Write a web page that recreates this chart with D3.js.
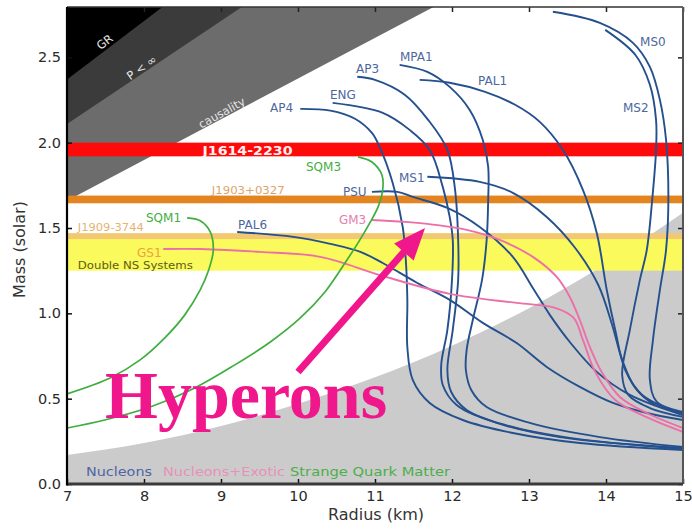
<!DOCTYPE html>
<html>
<head>
<meta charset="utf-8">
<script src="https://cdn.jsdelivr.net/npm/d3@7"></script>
<style>
  html, body { margin: 0; padding: 0; background: #fff; }
  svg { display: block; font-family: "DejaVu Sans", sans-serif; }
</style>
</head>
<body>
<svg id="chart" width="692" height="529"></svg>
<script>
// ---- Axis ticks ----
const radiusTicks = [7, 8, 9, 10, 11, 12, 13, 14, 15];
const massTicks = [0, 0.5, 1.0, 1.5, 2.0, 2.5];

// ---- Excluded regions (radius km, mass Msun) ----
const grRegion        = [[7, 2.37], [8.24, 2.795], [7, 2.795]];
const pressureRegion  = [[7, 2.11], [9.27, 2.795], [7, 2.795]];
const causalityRegion = [[7, 1.66], [11.76, 2.795], [7, 2.795]];
// upper edge of the region excluded by the 716 Hz spin
const rotationEdge = [[7, 0.17], [8, 0.24], [9, 0.34], [10, 0.47], [11, 0.625],
                      [12, 0.81], [13, 1.03], [14, 1.29], [15, 1.59]];

// ---- Measured pulsar masses (low, high) ----
const bandNames = ["Double NS Systems", "J1909-3744", "J1903+0327", "J1614-2230"];
const bandLow   = [1.25, 1.435, 1.645, 1.92];
const bandHigh  = [1.445, 1.47, 1.69, 2.00];

// ---- Mass–radius relations (radius km, mass Msun) ----
const eosAP4 = [[10.03,2.198],[10.42,2.188],[10.74,2.14],[10.96,2.057],[11.06,1.975],[11.23,1.764],
  [11.36,1.506],[11.40,1.313],[11.42,1.079],[11.42,0.803],[11.49,0.610],[11.71,0.475],
  [12.14,0.375],[12.79,0.299],[13.66,0.240],[15.0,0.199]];
const eosENG = [[10.45,2.233],[11.10,2.175],[11.45,2.075],[11.71,1.958],[11.88,1.741],[11.97,1.565],
  [12.01,1.430],[12.00,1.196],[11.94,0.903],[11.86,0.698],[11.88,0.580],[12.06,0.463],
  [12.58,0.358],[13.40,0.275],[15.0,0.211]];
const eosAP3 = [[10.77,2.386],[11.0,2.368],[11.39,2.280],[11.69,2.134],[11.94,1.958],[12.04,1.723],
  [12.08,1.430],[12.08,1.196],[12.01,0.903],[11.94,0.668],[11.99,0.539],[12.19,0.434],
  [12.69,0.346],[13.53,0.270],[15.0,0.205]];
const eosMPA1 = [[11.32,2.456],[11.68,2.415],[11.97,2.327],[12.23,2.192],[12.40,2.016],[12.47,1.858],
  [12.47,1.665],[12.45,1.430],[12.39,1.196],[12.27,0.961],[12.19,0.785],[12.18,0.668],
  [12.25,0.551],[12.45,0.451],[13.01,0.358],[13.92,0.275],[15.0,0.217]];
const eosPAL1 = [[11.58,2.368],[11.97,2.351],[12.43,2.298],[12.82,2.222],[13.14,2.122],[13.44,1.958],
  [13.70,1.723],[13.88,1.471],[14.01,1.137],[14.12,0.903],[14.25,0.668],[14.47,0.522],[15.0,0.404]];
const eosMS1 = [[11.68,1.800],[12.36,1.770],[12.79,1.706],[13.23,1.565],[13.60,1.383],[13.90,1.166],
  [14.08,0.932],[14.21,0.727],[14.38,0.563],[14.64,0.463],[15.0,0.416]];
const eosMS0 = [[13.31,2.767],[13.92,2.702],[14.35,2.585],[14.57,2.444],[14.70,2.251],[14.78,2.016],
  [14.81,1.665],[14.78,1.372],[14.70,1.137],[14.61,0.844],[14.57,0.610],[14.66,0.481],[15.0,0.422]];
const eosMS2 = [[13.99,2.661],[14.38,2.515],[14.57,2.339],[14.65,2.134],[14.65,1.958],[14.60,1.665],
  [14.53,1.372],[14.44,1.196],[14.31,0.903],[14.21,0.639],[14.29,0.522],[14.57,0.445],[15.0,0.393]];
const eosPAL6 = [[9.21,1.477],[9.94,1.448],[10.42,1.407],[10.81,1.360],[11.10,1.295],[11.55,1.178],
  [11.97,1.079],[12.40,0.944],[12.84,0.826],[13.23,0.686],[13.66,0.569],[14.09,0.475],
  [14.53,0.416],[15.0,0.375]];
const eosPSU = [[10.96,1.712],[11.29,1.712],[11.49,1.682],[11.94,1.618],[12.36,1.506],[12.79,1.331],
  [13.05,1.149],[13.27,0.991],[13.53,0.832],[13.88,0.657],[14.31,0.522],[15.0,0.404]];
const eosGM3 = [[10.96,1.547],[11.55,1.530],[12.19,1.489],[12.62,1.430],[13.05,1.331],[13.36,1.213],
  [13.53,1.096],[13.66,0.961],[13.79,0.803],[13.95,0.651],[14.18,0.510],[14.53,0.416],[15.0,0.328]];
const eosGS1 = [[8.25,1.377],[8.73,1.377],[9.51,1.360],[10.29,1.331],[11.10,1.219],[11.97,1.114],
  [12.84,1.061],[13.34,1.032],[13.58,0.973],[13.70,0.844],[13.86,0.657],[14.12,0.492],
  [14.55,0.387],[15.0,0.305]];
const eosSQM1 = [[8.56,1.559],[8.73,1.542],[8.86,1.477],[8.90,1.372],[8.84,1.254],[8.73,1.137],
  [8.53,0.991],[8.27,0.856],[7.95,0.727],[7.56,0.621],[7.0,0.528]];
const eosSQM3 = [[10.78,1.917],[10.96,1.887],[11.09,1.811],[11.10,1.723],[11.04,1.624],[10.94,1.536],
  [10.78,1.413],[10.61,1.295],[10.35,1.125],[10.03,0.973],[9.64,0.832],[9.18,0.698],
  [8.66,0.563],[8.08,0.451],[7.49,0.375],[7.0,0.328]];

const eosNames  = ["AP4","ENG","AP3","MPA1","PAL1","MS1","MS0","MS2","PAL6","PSU","GM3","GS1","SQM1","SQM3"];
const eosFamily = ["nuc","nuc","nuc","nuc","nuc","nuc","nuc","nuc","nuc","nuc","exo","exo","sqm","sqm"];
const eosCurves = [eosAP4, eosENG, eosAP3, eosMPA1, eosPAL1, eosMS1, eosMS0, eosMS2,
                   eosPAL6, eosPSU, eosGM3, eosGS1, eosSQM1, eosSQM3];

const legendNames = ["Nucleons", "Nucleons+Exotic", "Strange Quark Matter"];
const annotationText = "Hyperons";
const arrowFrom = [10.0, 0.656];
const arrowTo   = [11.65, 1.50];

// ---- Layout ----
const W = 692, H = 529;
const margin = { top: 7, right: 9, bottom: 45, left: 67 };
const x = d3.scaleLinear().domain([7, 15]).range([margin.left, W - margin.right]);
const y = d3.scaleLinear().domain([0, 2.795]).range([H - margin.bottom, margin.top]);

const familyColor = { nuc: "#24508e", exo: "#ec6fa8", sqm: "#3fae3f" };
const familyLabel = { nuc: "#4d679e", exo: "#e87cae", sqm: "#3fae3f" };
const bandColor = {
  "Double NS Systems": "#fafa5c", "J1909-3744": "#f3c872",
  "J1903+0327": "#e3841f", "J1614-2230": "#ff0a0a"
};

const svg = d3.select("#chart");
svg.append("defs").append("clipPath").attr("id", "plotClip")
  .append("rect").attr("x", x(7)).attr("y", y(2.795))
  .attr("width", x(15) - x(7)).attr("height", y(0) - y(2.795));

const plot = svg.append("g").attr("clip-path", "url(#plotClip)");
const poly = d3.line().x(d => x(d[0])).y(d => y(d[1]));

// excluded regions
plot.append("path").attr("d", poly(causalityRegion) + "Z").attr("fill", "#6c6c6c");
plot.append("path").attr("d", poly(pressureRegion) + "Z").attr("fill", "#3b3b3b");
plot.append("path").attr("d", poly(grRegion) + "Z").attr("fill", "#000");
const rotArea = d3.area().x(d => x(d[0])).y0(y(0)).y1(d => y(d[1])).curve(d3.curveMonotoneX);
plot.append("path").attr("d", rotArea(rotationEdge)).attr("fill", "#cbcbcb");

// mass bands
bandNames.forEach((n, i) => {
  plot.append("rect")
    .attr("x", x(7)).attr("width", x(15) - x(7))
    .attr("y", y(bandHigh[i])).attr("height", y(bandLow[i]) - y(bandHigh[i]))
    .attr("fill", bandColor[n]);
});

// band labels
const bandText = (name, r, m, len, fill, size, weight) =>
  plot.append("text").attr("x", x(r)).attr("y", y(m)).text(name)
    .attr("fill", fill).attr("font-size", size).attr("font-weight", weight || "normal")
    .attr("textLength", len).attr("lengthAdjust", "spacingAndGlyphs");
bandText("J1614-2230", 8.76, 1.93, 90, "#fff0f0", 12.5, "bold");
bandText("J1903+0327", 8.88, 1.70, 73, "#dca46c", 10.5);
bandText("J1909-3744", 7.14, 1.48, 66, "#e6b374", 10.5);
bandText("Double NS Systems", 7.14, 1.26, 115, "#5d5a14", 11);

// region labels
const regionText = (t, cx, cy, ang) =>
  plot.append("text").attr("transform", `translate(${x(cx)},${y(cy)}) rotate(${ang})`)
    .attr("text-anchor", "middle").attr("dy", "0.35em")
    .attr("fill", "#e6e6e6").attr("font-size", 11.5).text(t);
regionText("GR", 7.49, 2.59, -38);
regionText("P < ∞", 7.97, 2.44, -35);
regionText("causality", 9.01, 2.175, -29);

// mass–radius curves
const curveLine = d3.line().x(d => x(d[0])).y(d => y(d[1])).curve(d3.curveCatmullRom.alpha(0.5));
eosCurves.forEach((pts, i) => {
  plot.append("path").attr("d", curveLine(pts))
    .attr("fill", "none")
    .attr("stroke", familyColor[eosFamily[i]])
    .attr("stroke-width", eosFamily[i] === "sqm" ? 1.7 : 1.9)
    .attr("stroke-linejoin", "round");
});

// curve labels (text start, baseline) in data units
const labelAt = {
  AP4: [9.636, 2.180], ENG: [10.416, 2.256], AP3: [10.753, 2.408], MPA1: [11.325, 2.479],
  PAL1: [12.338, 2.338], MS0: [14.442, 2.566], MS2: [14.221, 2.180], MS1: [11.312, 1.770],
  PSU: [10.584, 1.688], GM3: [10.532, 1.524], SQM3: [10.104, 1.834], SQM1: [8.026, 1.535],
  PAL6: [9.221, 1.494], GS1: [7.909, 1.330]
};
eosNames.forEach((n, i) => {
  const p = labelAt[n];
  plot.append("text").attr("x", x(p[0])).attr("y", y(p[1]))
    .attr("font-size", 12)
    .attr("fill", n === "GS1" ? "#f0a040" : familyLabel[eosFamily[i]])
    .text(n);
});

// family legend along the bottom
const legendX = [86, 163, 290], legendLen = [66, 122, 160];
const legendFill = ["#4f64a5", "#e891b8", "#4cae4c"];
legendNames.forEach((t, i) => {
  plot.append("text").attr("x", legendX[i]).attr("y", y(0) - 8)
    .attr("font-size", 13).attr("fill", legendFill[i])
    .attr("textLength", legendLen[i]).attr("lengthAdjust", "spacingAndGlyphs").text(t);
});

// ---- Axes ----
const tickFont = g => g.selectAll("text").attr("font-size", 14.5).attr("fill", "#2a2a2a")
  .attr("font-family", "DejaVu Sans, sans-serif");
svg.append("g").attr("transform", `translate(0,${y(0)})`)
  .call(d3.axisBottom(x).tickValues(radiusTicks).tickSize(-5).tickPadding(7).tickFormat(d3.format("d")))
  .call(g => g.select(".domain").remove())
  .call(g => g.selectAll("line").attr("stroke", "#111").attr("stroke-width", 1.5))
  .call(tickFont);
svg.append("g").attr("transform", `translate(${x(7)},0)`)
  .call(d3.axisLeft(y).tickValues(massTicks).tickSize(-5).tickPadding(6).tickFormat(d3.format(".1f")))
  .call(g => g.select(".domain").remove())
  .call(g => g.selectAll("line").attr("stroke", "#111").attr("stroke-width", 1.5))
  .call(tickFont);
svg.append("g").attr("transform", `translate(0,${y(2.795)})`)
  .call(d3.axisTop(x).tickValues(radiusTicks).tickSize(-5).tickFormat(""))
  .call(g => g.select(".domain").remove())
  .call(g => g.selectAll("line").attr("stroke", "#222").attr("stroke-width", 1.5));
svg.append("g").attr("transform", `translate(${x(15)},0)`)
  .call(d3.axisRight(y).tickValues(massTicks).tickSize(-5).tickFormat(""))
  .call(g => g.select(".domain").remove())
  .call(g => g.selectAll("line").attr("stroke", "#222").attr("stroke-width", 1.5));

// frame
svg.append("line").attr("x1", x(7)).attr("x2", x(15)).attr("y1", y(2.795)).attr("y2", y(2.795))
  .attr("stroke", "#333").attr("stroke-width", 1.5);
svg.append("line").attr("x1", x(15)).attr("x2", x(15)).attr("y1", y(2.795)).attr("y2", y(0))
  .attr("stroke", "#555").attr("stroke-width", 2);
svg.append("line").attr("x1", x(7)).attr("x2", x(15)).attr("y1", y(0)).attr("y2", y(0))
  .attr("stroke", "#3a3a3a").attr("stroke-width", 3);
svg.append("line").attr("x1", x(7)).attr("x2", x(7)).attr("y1", y(2.795)).attr("y2", y(0) + 1.5)
  .attr("stroke", "#000").attr("stroke-width", 2.2);

// axis titles
svg.append("text").attr("x", (x(7) + x(15)) / 2 + 1).attr("y", 520)
  .attr("text-anchor", "middle").attr("font-size", 16).attr("fill", "#333").text("Radius (km)");
svg.append("text").attr("transform", `translate(25,${(y(0) + y(2.795)) / 2 + 4}) rotate(-90)`)
  .attr("text-anchor", "middle").attr("font-size", 16).attr("fill", "#333").text("Mass (solar)");

// ---- Hyperon annotation ----
const pink = "#f0168c";
const p0 = [x(arrowFrom[0]), y(arrowFrom[1])], p1 = [x(arrowTo[0]), y(arrowTo[1])];
const dx = p1[0] - p0[0], dy = p1[1] - p0[1], len = Math.hypot(dx, dy);
const ux = dx / len, uy = dy / len, nx = -uy, ny = ux;
const headLen = 32, headHalf = 13;
const base = [p1[0] - ux * headLen, p1[1] - uy * headLen];
svg.append("line").attr("x1", p0[0]).attr("y1", p0[1])
  .attr("x2", base[0] + ux * 4).attr("y2", base[1] + uy * 4)
  .attr("stroke", pink).attr("stroke-width", 7);
svg.append("path")
  .attr("d", `M${p1[0]},${p1[1]}L${base[0] + nx * headHalf},${base[1] + ny * headHalf}` +
             `L${base[0] - nx * headHalf},${base[1] - ny * headHalf}Z`)
  .attr("fill", pink);
svg.append("text").attr("x", 105).attr("y", 418)
  .attr("font-family", "Liberation Serif, Times New Roman, serif")
  .attr("font-weight", "bold").attr("font-size", 68).attr("fill", pink)
  .text(annotationText);
</script>
</body>
</html>
